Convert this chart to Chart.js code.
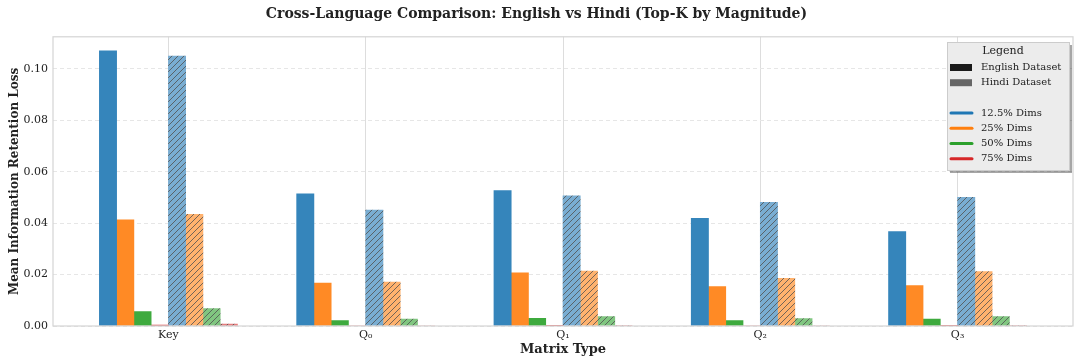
<html>
<head>
<title>Cross-Language Comparison</title>
<style>
  html, body { margin: 0; padding: 0; background: #fff; }
  #wrap { width: 1080px; height: 364px; }
</style>
</head>
<body>
<div id="wrap"><canvas id="chart" width="1080" height="364"></canvas></div>
<script src="https://cdn.jsdelivr.net/npm/chart.js@4/dist/chart.umd.min.js"></script>
<script>
// data
var categories = ['Key', 'Q\u2080', 'Q\u2081', 'Q\u2082', 'Q\u2083'];
var dimLabels = ['12.5% Dims', '25% Dims', '50% Dims', '75% Dims'];
var datasetLabels = ['English Dataset', 'Hindi Dataset'];
var yTicks = [0, 0.02, 0.04, 0.06, 0.08, 0.10];

var english125 = [0.1070, 0.0514, 0.0527, 0.0419, 0.0367];
var english25  = [0.0413, 0.0167, 0.0207, 0.0153, 0.0157];
var english50  = [0.0056, 0.0021, 0.0030, 0.0021, 0.0027];
var english75  = [0.0004, 0.0000, 0.0001, 0.0000, 0.0001];

var hindi125 = [0.1050, 0.0451, 0.0506, 0.0481, 0.0501];
var hindi25  = [0.0434, 0.0171, 0.0214, 0.0185, 0.0212];
var hindi50  = [0.0068, 0.0027, 0.0037, 0.0029, 0.0037];
var hindi75  = [0.0007, 0.0000, 0.0002, 0.0000, 0.0002];

var FONT = "'DejaVu Serif', serif";
var barW = 0.0875;
var solid = ['#3585bb', '#ff8a25', '#3eaa3e', '#da3c3d'];
var faded = ['#79add2', '#ffb26e', '#80c680', '#e67d7e'];
var lineCol = ['#1f77b4', '#ff7f0e', '#2ca02c', '#d62728'];

function hatch(color) {
    var s = 6;
    var c = document.createElement('canvas');
    c.width = s; c.height = s;
    var g = c.getContext('2d');
    g.fillStyle = color;
    g.fillRect(0, 0, s, s);
    g.strokeStyle = 'rgba(80,80,80,0.8)';
    g.lineWidth = 1;
    g.beginPath();
    g.moveTo(0, s); g.lineTo(s, 0);
    g.moveTo(-1, 1); g.lineTo(1, -1);
    g.moveTo(s - 1, s + 1); g.lineTo(s + 1, s - 1);
    g.stroke();
    return g.createPattern(c, 'repeat');
}

function points(values, slot) {
    var off = -0.35 + barW * (slot + 0.5);
    return values.map(function(v, i) { return { x: i + off, y: v }; });
}

var engSeries = [english125, english25, english50, english75];
var hinSeries = [hindi125, hindi25, hindi50, hindi75];
var datasets = [];
engSeries.forEach(function(vals, k) {
    datasets.push({
        label: datasetLabels[0] + ' ' + dimLabels[k],
        data: points(vals, k),
        backgroundColor: solid[k],
        borderWidth: 0
    });
});
hinSeries.forEach(function(vals, k) {
    datasets.push({
        label: datasetLabels[1] + ' ' + dimLabels[k],
        data: points(vals, 4 + k),
        backgroundColor: hatch(faded[k]),
        borderWidth: 0
    });
});

// spines + custom legend box in top right
var frame = {
    id: 'frame',
    afterDatasetsDraw: function(chart) {
        var a = chart.chartArea, ctx = chart.ctx;
        ctx.save();
        ctx.strokeStyle = '#d4d4d4';
        ctx.lineWidth = 1.2;
        ctx.strokeRect(a.left, a.top, a.right - a.left, a.bottom - a.top);
        ctx.restore();
    },
    afterDraw: function(chart) {
        var ctx = chart.ctx;
        var x = 947, y = 42, w = 122, h = 128;
        ctx.save();
        ctx.fillStyle = 'rgba(0,0,0,0.35)';
        ctx.fillRect(x + 3, y + 3, w, h);
        ctx.fillStyle = '#ececec';
        ctx.fillRect(x, y, w, h);
        ctx.strokeStyle = '#cccccc';
        ctx.lineWidth = 1;
        ctx.strokeRect(x + 0.5, y + 0.5, w, h);
        ctx.fillStyle = '#222';
        ctx.font = '11px ' + FONT;
        ctx.textAlign = 'center';
        ctx.textBaseline = 'middle';
        ctx.fillText('Legend', x + 56, 51);
        ctx.font = '10px ' + FONT;
        ctx.textAlign = 'left';
        var rowY = 67.5, step = 15.2;
        ctx.fillStyle = '#1a1a1a';
        ctx.fillRect(950, rowY - 3.5, 22, 7);
        ctx.fillStyle = '#222';
        ctx.fillText(datasetLabels[0], 981, rowY);
        rowY += step;
        ctx.fillStyle = '#666666';
        ctx.fillRect(950, rowY - 3.5, 22, 7);
        ctx.fillStyle = '#222';
        ctx.fillText(datasetLabels[1], 981, rowY);
        rowY += step * 2;
        ctx.lineCap = 'round';
        ctx.lineWidth = 3;
        dimLabels.forEach(function(lbl, k) {
            ctx.strokeStyle = lineCol[k];
            ctx.beginPath();
            ctx.moveTo(951, rowY);
            ctx.lineTo(972, rowY);
            ctx.stroke();
            ctx.fillStyle = '#222';
            ctx.fillText(lbl, 981, rowY);
            rowY += step;
        });
        ctx.restore();
    }
};

new Chart(document.getElementById('chart'), {
    type: 'bar',
    data: { datasets: datasets },
    plugins: [frame],
    options: {
        responsive: false,
        animation: false,
        layout: { padding: { left: 0, right: 7, top: 0, bottom: 0 } },
        datasets: {
            bar: { grouped: false, barPercentage: 1, categoryPercentage: 1 }
        },
        plugins: {
            legend: { display: false },
            tooltip: { enabled: false },
            title: {
                display: true,
                text: 'Cross-Language Comparison: English vs Hindi (Top-K by Magnitude)',
                color: '#222',
                font: { family: FONT, size: 14, weight: 'bold' },
                padding: { top: 6, bottom: 14 }
            }
        },
        scales: {
            x: {
                type: 'linear',
                offset: false,
                min: -0.585,
                max: 4.585,
                afterBuildTicks: function(scale) {
                    scale.ticks = categories.map(function(c, i) { return { value: i }; });
                },
                afterFit: function(scale) { scale.height = 38; },
                ticks: {
                    autoSkip: false,
                    maxRotation: 0,
                    padding: 3,
                    color: '#222',
                    font: { family: FONT, size: 11 },
                    callback: function(v) { return categories[v]; }
                },
                grid: { color: '#dddddd', lineWidth: 1, drawTicks: false, offset: false },
                border: { display: false },
                title: {
                    display: true,
                    text: 'Matrix Type',
                    color: '#222',
                    font: { family: FONT, size: 13, weight: 'bold' },
                    padding: { top: 0, bottom: 7 }
                }
            },
            y: {
                min: 0,
                max: 0.1125,
                afterBuildTicks: function(scale) {
                    scale.ticks = yTicks.map(function(v) { return { value: v }; });
                },
                afterFit: function(scale) { scale.width = 53; },
                ticks: {
                    padding: 5,
                    color: '#222',
                    font: { family: FONT, size: 11 },
                    callback: function(v) { return v.toFixed(2); }
                },
                grid: { color: '#e6e6e6', lineWidth: 1, drawTicks: false },
                border: { display: false, dash: [4, 3] },
                title: {
                    display: true,
                    text: 'Mean Information Retention Loss',
                    color: '#222',
                    font: { family: FONT, size: 12, weight: 'bold' },
                    padding: { top: 8, bottom: 0 }
                }
            }
        }
    }
});
</script>
</body>
</html>
